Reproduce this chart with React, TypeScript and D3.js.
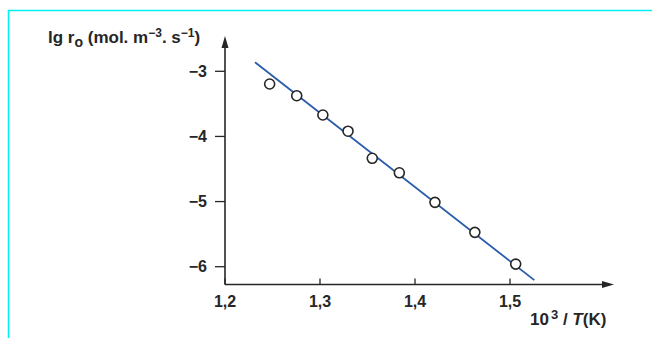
import * as d3 from 'd3';
import { useEffect, useRef } from 'react';

// 10^3 / T (K) and lg r0
const invT = [1.247, 1.2755, 1.303, 1.3295, 1.355, 1.3835, 1.421, 1.463, 1.506];
const lgR = [-3.195, -3.375, -3.671, -3.92, -4.336, -4.558, -5.012, -5.473, -5.96];
const fitX = [1.2316, 1.5256];
const fitY = [-2.862, -6.206];
const xTicks = [1.2, 1.3, 1.4, 1.5];
const yTicks = [-3, -4, -5, -6];

const W = 652;
const H = 338;
const FONT = '"Liberation Sans", Arial, sans-serif';

const App = () => {
    const svgRef = useRef<SVGSVGElement>(null);

    useEffect(() => {
        const svg = d3.select(svgRef.current);
        svg.selectAll('*').remove();

        const x = d3.scaleLinear().domain([1.2, 1.5]).range([225, 510]);
        const y = d3.scaleLinear().domain([-3, -6]).range([71.3, 266.7]);
        const x0 = x(1.2);
        const y0 = 284.5;

        svg.append('rect').attr('width', W).attr('height', H).attr('fill', '#fff');

        // cyan frame (top + left)
        svg.append('path')
            .attr('d', `M8.5,${H} V10.5 H${W}`)
            .attr('fill', 'none')
            .attr('stroke', '#00f0f8')
            .attr('stroke-width', 1.5);

        const ink = '#262626';

        // axes with arrowheads
        svg.append('line').attr('x1', x0).attr('x2', 604).attr('y1', y0).attr('y2', y0)
            .attr('stroke', ink).attr('stroke-width', 1.6);
        svg.append('path').attr('d', `M614,${y0} L602,${y0 - 3.5} L602,${y0 + 3.5} Z`).attr('fill', ink);
        svg.append('line').attr('x1', x0).attr('x2', x0).attr('y1', y0).attr('y2', 46)
            .attr('stroke', ink).attr('stroke-width', 1.6);
        svg.append('path').attr('d', `M${x0},36 L${x0 - 3.5},48 L${x0 + 3.5},48 Z`).attr('fill', ink);

        const fmt = (v: number) => v.toFixed(1).replace('.', ',');

        // x ticks
        const xt = svg.append('g');
        xTicks.forEach(t => {
            xt.append('line').attr('x1', x(t)).attr('x2', x(t)).attr('y1', y0).attr('y2', y0 - 6)
                .attr('stroke', ink).attr('stroke-width', 1.3);
            xt.append('text').attr('x', x(t)).attr('y', y0 + 22)
                .attr('text-anchor', 'middle').attr('font-size', 16).attr('font-weight', 'bold')
                .attr('font-family', FONT).attr('fill', ink).text(fmt(t));
        });

        // y ticks
        const yt = svg.append('g');
        yTicks.forEach(t => {
            yt.append('line').attr('x1', x0).attr('x2', x0 - 10).attr('y1', y(t)).attr('y2', y(t))
                .attr('stroke', ink).attr('stroke-width', 1.3);
            yt.append('text').attr('x', x0 - 18).attr('y', y(t)).attr('dy', '0.36em')
                .attr('text-anchor', 'end').attr('font-size', 16).attr('font-weight', 'bold')
                .attr('font-family', FONT).attr('fill', ink).text('\u2212' + Math.abs(t));
        });

        // fit line
        svg.append('line')
            .attr('x1', x(fitX[0])).attr('y1', y(fitY[0]))
            .attr('x2', x(fitX[1])).attr('y2', y(fitY[1]))
            .attr('stroke', '#2a5caa').attr('stroke-width', 1.8);

        // measured points
        svg.selectAll('circle.pt')
            .data(invT.map((v, i) => [v, lgR[i]]))
            .enter()
            .append('circle')
            .attr('class', 'pt')
            .attr('cx', d => x(d[0]))
            .attr('cy', d => y(d[1]))
            .attr('r', 5)
            .attr('fill', '#fff')
            .attr('stroke', ink)
            .attr('stroke-width', 1.6);

        // y label
        const yl = svg.append('text').attr('x', 48).attr('y', 43)
            .attr('font-size', 17).attr('font-weight', 'bold')
            .attr('font-family', FONT).attr('fill', ink);
        yl.append('tspan').text('lg r');
        yl.append('tspan').attr('font-size', 14).attr('dy', 4).text('o');
        yl.append('tspan').attr('dy', -4).text(' (mol. m');
        yl.append('tspan').attr('font-size', 12).attr('dy', -6).text('\u22123');
        yl.append('tspan').attr('dy', 6).text('. s');
        yl.append('tspan').attr('font-size', 12).attr('dy', -6).text('\u22121');
        yl.append('tspan').attr('dy', 6).text(')');

        // x label
        const xl = svg.append('text').attr('x', 530).attr('y', 325)
            .attr('font-size', 17).attr('font-weight', 'bold')
            .attr('font-family', FONT).attr('fill', ink);
        xl.append('tspan').text('10');
        xl.append('tspan').attr('font-size', 13).attr('dy', -6).attr('dx', 2).text('3');
        xl.append('tspan').attr('dy', 6).text(' / ');
        xl.append('tspan').attr('font-style', 'italic').text('T');
        xl.append('tspan').text('(K)');

        return () => {
            svg.selectAll('*').remove();
        };
    }, []);

    return (
        <svg ref={svgRef} width={W} height={H}
            style={{ position: 'absolute', left: 0, top: 0, display: 'block' }} />
    );
};

export default App;
